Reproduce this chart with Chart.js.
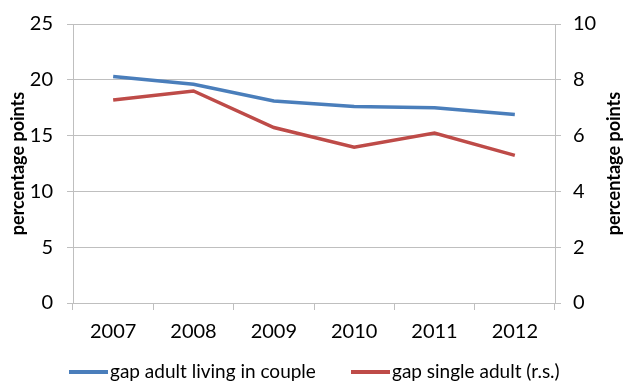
<!DOCTYPE html>
<html>
<head>
<meta charset="utf-8">
<script src="https://cdn.jsdelivr.net/npm/chart.js@4.4.1/dist/chart.umd.min.js"></script>
<style>
  html, body { margin: 0; padding: 0; background: #fff; }
  #wrap { position: relative; width: 623px; height: 381px; }
  #legend { position: absolute; left: 0; top: 359px; height: 24px; width: 623px;
            font-family: Lato, "Open Sans", sans-serif; font-size: 19px; color: #000; line-height: 24px; }
  #legend .item { position: absolute; top: 0; white-space: nowrap; }
  #legend .swatch { display: inline-block; width: 39px; height: 3.5px; vertical-align: middle; margin-right: 2px; position: relative; top: -1px; }
</style>
</head>
<body>
<div id="wrap">
  <canvas id="canvas" width="623" height="381"></canvas>
  <div id="legend"></div>
</div>
<script>
// data
const years = ['2007', '2008', '2009', '2010', '2011', '2012'];
const gapCouple = [20.3, 19.6, 18.1, 17.6, 17.5, 16.9];
const gapSingle = [7.28, 7.6, 6.29, 5.58, 6.09, 5.29];
const leftTicks = [0, 5, 10, 15, 20, 25];
const rightTicks = [0, 2, 4, 6, 8, 10];

const fontName = 'Lato, "Open Sans", sans-serif';
const gridCol = '#bfbfbf';
const legendX = [69, 351];

// right axis title reads bottom-to-top like the left one
const rightTitle = {
    id: 'rightTitle',
    afterDraw(chart) {
        const ctx = chart.ctx;
        const a = chart.chartArea;
        ctx.save();
        ctx.translate(614, (a.top + a.bottom) / 2);
        ctx.rotate(-Math.PI / 2);
        ctx.font = 'bold 18px ' + fontName;
        ctx.fillStyle = '#000';
        ctx.textAlign = 'center';
        ctx.textBaseline = 'middle';
        ctx.fillText('percentage points', 0, 0);
        ctx.restore();
    }
};

// html legend built from the datasets
const htmlLegend = {
    id: 'htmlLegend',
    afterUpdate(chart) {
        const box = document.getElementById("legend");
        box.innerHTML = '';
        chart.data.datasets.forEach(function (ds, i) {
            const item = document.createElement('span');
            item.className = 'item';
            item.style.left = legendX[i] + 'px';
            const sw = document.createElement('span');
            sw.className = 'swatch';
            sw.style.background = ds.borderColor;
            item.appendChild(sw);
            item.appendChild(document.createTextNode(ds.label));
            box.appendChild(item);
        });
    }
};

const data = {
    labels: years,
    datasets: [
        {
            label: 'gap adult living in couple',
            data: gapCouple,
            borderColor: '#4a7ebb',
            backgroundColor: '#4a7ebb',
            borderWidth: 3.5,
            pointRadius: 0,
            tension: 0,
            yAxisID: 'y'
        },
        {
            label: 'gap single adult (r.s.)',
            data: gapSingle,
            borderColor: '#be4b48',
            backgroundColor: '#be4b48',
            borderWidth: 3.5,
            pointRadius: 0,
            tension: 0,
            yAxisID: 'y1'
        }
    ]
};

const config = {
    type: 'line',
    data: data,
    plugins: [rightTitle, htmlLegend],
    options: {
        responsive: false,
        animation: false,
        layout: { padding: { top: 10, left: 4, right: 0, bottom: 38 } },
        plugins: {
            legend: { display: false },
            tooltip: { enabled: false }
        },
        scales: {
            x: {
                offset: true,
                grid: { display: true, drawOnChartArea: false, drawTicks: true, tickLength: 7, offset: true, color: gridCol },
                border: { color: gridCol },
                ticks: { color: '#000', padding: 10, font: { family: fontName, size: 20 } },
                afterFit(s) { s.height = 40; }
            },
            y: {
                position: 'left',
                min: 0, max: 25,
                afterBuildTicks(s) { s.ticks = leftTicks.map(v => ({ value: v })); },
                grid: { color: gridCol, tickLength: 6 },
                border: { color: gridCol },
                ticks: { color: '#000', padding: 14, font: { family: fontName, size: 20, lineHeight: 1 } },
                title: { display: true, text: 'percentage points', color: '#000', padding: 3, font: { family: fontName, size: 18, weight: 'bold' } },
                afterFit(s) { s.width = 69; }
            },
            y1: {
                position: 'right',
                min: 0, max: 10,
                afterBuildTicks(s) { s.ticks = rightTicks.map(v => ({ value: v })); },
                grid: { drawOnChartArea: false, color: gridCol, tickLength: 6 },
                border: { color: gridCol },
                ticks: { color: '#000', padding: 12, font: { family: fontName, size: 20, lineHeight: 1 } },
                afterFit(s) { s.width = 68; }
            }
        }
    }
};

const canvas = document.getElementById("canvas");
const chart = new Chart(canvas, config);
</script>
</body>
</html>
